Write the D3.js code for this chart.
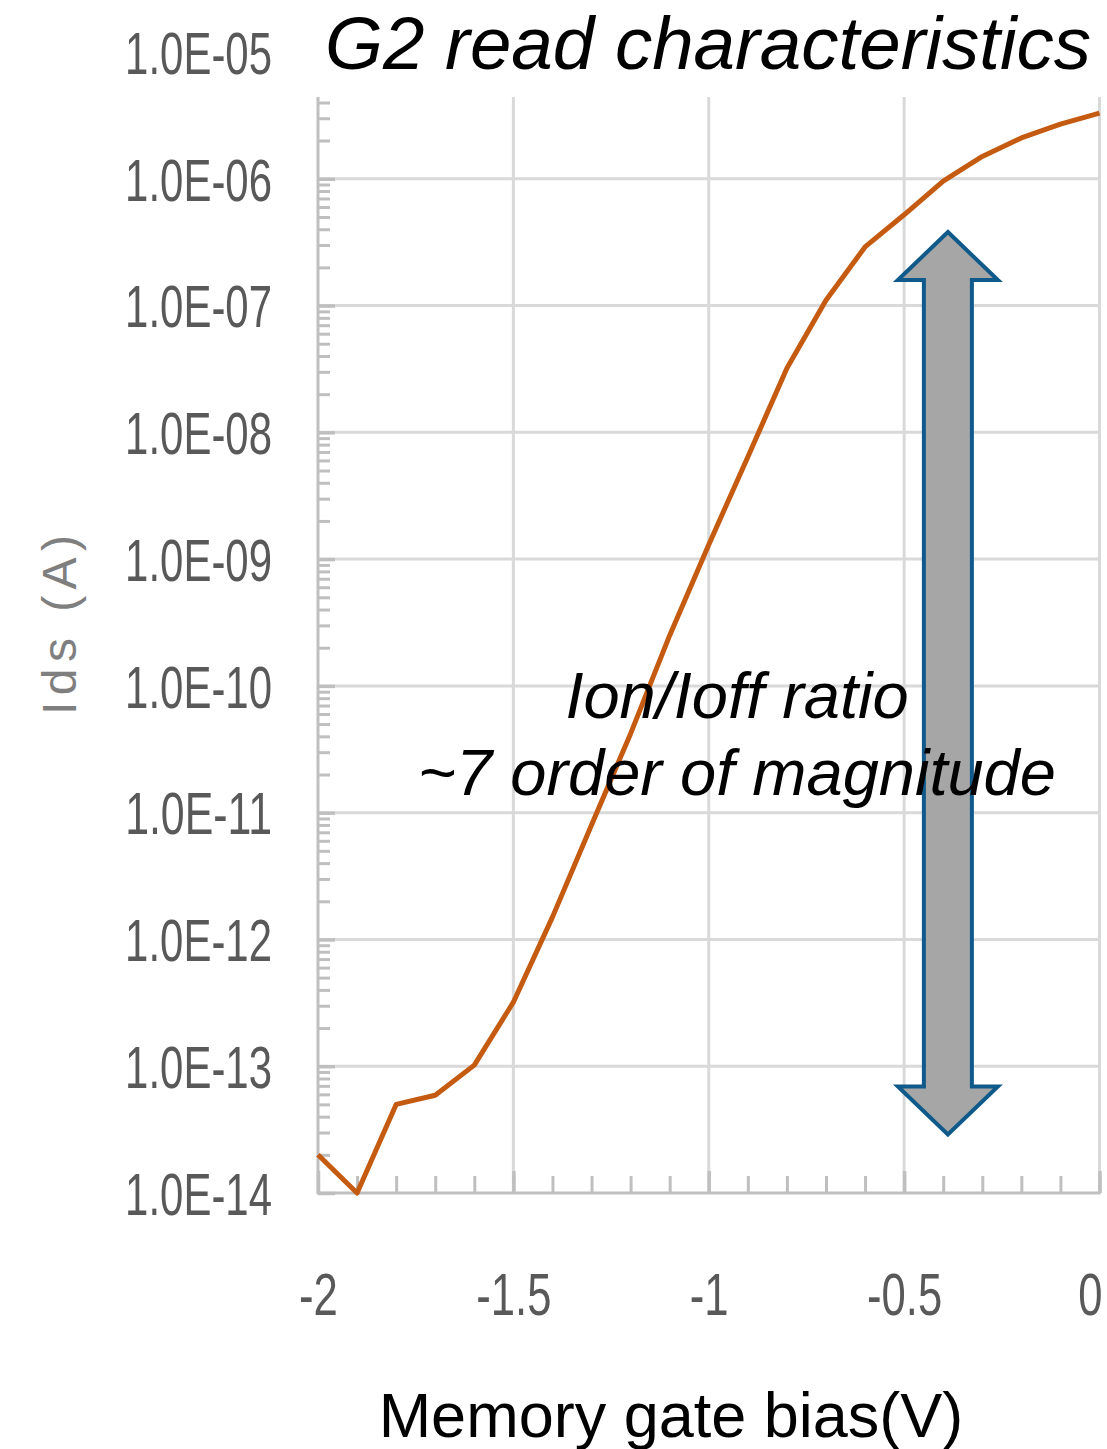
<!DOCTYPE html>
<html>
<head>
<meta charset="utf-8">
<script src="https://cdn.jsdelivr.net/npm/d3@7"></script>
<style>
  html, body { margin: 0; padding: 0; background: #fff; }
  svg { display: block; }
</style>
</head>
<body>
<svg id="chart" width="1107" height="1449"></svg>
<script>
// Memory gate bias sweep (V) and measured drain current Ids (A)
const gateBias = [-2.0, -1.9, -1.8, -1.7, -1.6, -1.5, -1.4, -1.3, -1.2, -1.1, -1.0,
                  -0.9, -0.8, -0.7, -0.6, -0.5, -0.4, -0.3, -0.2, -0.1, 0.0];
const idsCurrent = [2.0e-14, 1.0e-14, 5.0e-14, 5.9e-14, 1.02e-13, 3.2e-13, 1.5e-12, 8.0e-12,
                    4.2e-11, 2.5e-10, 1.3e-9, 6.4e-9, 3.2e-8, 1.1e-7, 2.9e-7, 5.2e-7,
                    9.6e-7, 1.5e-6, 2.1e-6, 2.7e-6, 3.3e-6];

// Axis ticks
const yTickValues = [1e-14, 1e-13, 1e-12, 1e-11, 1e-10, 1e-9, 1e-8, 1e-7, 1e-6, 1e-5];
const yTickLabels = ["1.0E-14", "1.0E-13", "1.0E-12", "1.0E-11", "1.0E-10",
                     "1.0E-09", "1.0E-08", "1.0E-07", "1.0E-06", "1.0E-05"];
const xTickValues = [-2, -1.5, -1, -0.5, 0];
const xTickLabels = ["-2", "-1.5", "-1", "-0.5", "0"];
const xMinorStep = 0.1;

// On/off ratio annotation: arrow spans Ioff .. Ion at this bias
const ratioArrowBias = -0.388;
const ratioArrowSpan = [2.9e-14, 3.8e-7];
const ratioText = ["Ion/Ioff ratio", "~7 order of magnitude"];

const titleText = "G2 read characteristics";
const xTitle = "Memory gate bias(V)";
const yTitle = "Ids (A)";

// ---- layout ----
const W = 1107;
const plot = { left: 318, right: 1099.5, top: 97, bottom: 1193, decadeTop: 52 };
const svg = d3.select("#chart");

const x = d3.scaleLinear().domain([-2, 0]).range([plot.left, plot.right]);
const y = d3.scaleLog().domain([1e-14, 1e-5]).range([plot.bottom, plot.decadeTop]);

// Narrow label face: advance widths (em) of a condensed humanist sans
const narrowWidth = { "0": .507, "1": .507, "2": .507, "3": .507, "4": .507, "5": .507,
  "6": .507, "7": .507, "8": .507, "9": .507, ".": .252, "E": .488, "-": .306 };
const narrowEm = 47.8;
const narrowLen = s => Array.from(s).reduce((a, c) => a + (narrowWidth[c] || .5), 0) * narrowEm;

const gridColor = "#d9d9d9";
const axisColor = "#bfbfbf";
const labelColor = "#595959";

svg.append("defs").append("clipPath").attr("id", "plotClip")
  .append("rect")
  .attr("x", plot.left - 5).attr("y", plot.top)
  .attr("width", plot.right - plot.left + 10).attr("height", plot.bottom - plot.top + 5);

const plotG = svg.append("g").attr("clip-path", "url(#plotClip)");

// Horizontal gridlines (decades)
plotG.append("g")
  .selectAll("line")
  .data(yTickValues.slice(1))
  .join("line")
  .attr("x1", plot.left).attr("x2", plot.right)
  .attr("y1", d => y(d)).attr("y2", d => y(d))
  .attr("stroke", gridColor).attr("stroke-width", 3);

// Vertical gridlines
plotG.append("g")
  .selectAll("line")
  .data(xTickValues.slice(1))
  .join("line")
  .attr("x1", d => x(d)).attr("x2", d => x(d))
  .attr("y1", plot.top).attr("y2", plot.bottom)
  .attr("stroke", gridColor).attr("stroke-width", 3);

// Minor log ticks (2..9 per decade) on the left axis, pointing inward
const minorY = [];
for (let e = -14; e < -5; e++) for (let m = 2; m <= 9; m++) minorY.push(m * Math.pow(10, e));

function styleTicks(g, w) {
  g.select(".domain").remove();
  g.selectAll(".tick line").attr("stroke", axisColor).attr("stroke-width", w);
}

plotG.append("g")
  .attr("transform", `translate(${plot.left},0)`)
  .call(d3.axisRight(y).tickValues(minorY).tickSize(12).tickFormat(""))
  .call(g => styleTicks(g, 3));

plotG.append("g")
  .attr("transform", `translate(${plot.left},0)`)
  .call(d3.axisRight(y).tickValues(yTickValues.slice(0, -1)).tickSize(17).tickFormat(""))
  .call(g => styleTicks(g, 3.5));

// Minor / major ticks on the bottom axis, pointing upward
const minorX = d3.range(-2, 0.0001, xMinorStep).map(v => +v.toFixed(1));
svg.append("g")
  .attr("transform", `translate(0,${plot.bottom})`)
  .call(d3.axisTop(x).tickValues(minorX).tickSize(17).tickFormat(""))
  .call(g => styleTicks(g, 3));
svg.append("g")
  .attr("transform", `translate(0,${plot.bottom})`)
  .call(d3.axisTop(x).tickValues(xTickValues).tickSize(22).tickFormat(""))
  .call(g => styleTicks(g, 3.5));

// Axis lines
svg.append("line")
  .attr("x1", plot.left).attr("x2", plot.left)
  .attr("y1", plot.top).attr("y2", plot.bottom + 1.5)
  .attr("stroke", axisColor).attr("stroke-width", 3);
svg.append("line")
  .attr("x1", plot.left).attr("x2", plot.right + 1)
  .attr("y1", plot.bottom).attr("y2", plot.bottom)
  .attr("stroke", axisColor).attr("stroke-width", 3);

// Squeeze tick label text horizontally to the narrow face width,
// keeping its anchor point (x offset within the tick) in place.
function narrowLabels(sel, anchorX) {
  sel.each(function () {
    const t = d3.select(this);
    const natural = this.getComputedTextLength();
    const sx = narrowLen(t.text()) / natural;
    t.attr("x", anchorX / sx).attr("transform", `scale(${sx},1)`);
    this.__sx = sx;
  });
}

// Tick labels
const yPad = 46;
const yLab = svg.append("g")
  .attr("transform", `translate(${plot.left},0)`)
  .call(d3.axisLeft(y).tickValues(yTickValues).tickSize(0).tickPadding(yPad)
    .tickFormat((d, i) => yTickLabels[i]));
yLab.select(".domain").remove();
yLab.selectAll("text")
  .attr("font-family", "'Liberation Sans', Arial, sans-serif")
  .attr("font-size", 59)
  .attr("fill", labelColor)
  .attr("dy", "0.36em")
  .call(narrowLabels, -yPad);

const xLab = svg.append("g")
  .attr("transform", `translate(0,${plot.bottom})`)
  .call(d3.axisBottom(x).tickValues(xTickValues).tickSize(0).tickPadding(80)
    .tickFormat((d, i) => xTickLabels[i]));
xLab.select(".domain").remove();
xLab.selectAll("text")
  .attr("font-family", "'Liberation Sans', Arial, sans-serif")
  .attr("font-size", 59)
  .attr("fill", labelColor)
  .call(narrowLabels, 0);
// keep the last label clear of the canvas edge
const edgeRoom = 5;
xLab.selectAll(".tick").each(function (d) {
  const t = d3.select(this).select("text");
  const half = narrowLen(t.text()) / 2;
  const tx = x(d);
  if (tx + half > W - edgeRoom) {
    const shift = (W - edgeRoom) - tx - half;
    t.attr("x", shift / t.node().__sx);
  }
});

// Ids curve
const pts = gateBias.map((v, i) => [v, idsCurrent[i]]);
svg.append("path")
  .datum(pts)
  .attr("fill", "none")
  .attr("stroke", "#c55a11")
  .attr("stroke-width", 5)
  .attr("stroke-linejoin", "round")
  .attr("d", d3.line().x(d => x(d[0])).y(d => y(d[1])));

// Double-headed on/off arrow
const ax = x(ratioArrowBias);
const yTop = y(ratioArrowSpan[1]);
const yBot = y(ratioArrowSpan[0]);
const headLen = 48, headHalf = 50, shaftHalf = 24;
const arrowPath = d3.path();
arrowPath.moveTo(ax, yTop);
arrowPath.lineTo(ax + headHalf, yTop + headLen);
arrowPath.lineTo(ax + shaftHalf, yTop + headLen);
arrowPath.lineTo(ax + shaftHalf, yBot - headLen);
arrowPath.lineTo(ax + headHalf, yBot - headLen);
arrowPath.lineTo(ax, yBot);
arrowPath.lineTo(ax - headHalf, yBot - headLen);
arrowPath.lineTo(ax - shaftHalf, yBot - headLen);
arrowPath.lineTo(ax - shaftHalf, yTop + headLen);
arrowPath.lineTo(ax - headHalf, yTop + headLen);
arrowPath.closePath();
svg.append("path")
  .attr("d", arrowPath.toString())
  .attr("fill", "#a6a6a6")
  .attr("stroke", "#0f5a8a")
  .attr("stroke-width", 4)
  .attr("stroke-linejoin", "miter");

// Annotation text
svg.append("g")
  .selectAll("text")
  .data(ratioText)
  .join("text")
  .attr("x", 737)
  .attr("y", (d, i) => 718 + i * 77)
  .attr("text-anchor", "middle")
  .attr("font-family", "'Liberation Sans', Arial, sans-serif")
  .attr("font-style", "italic")
  .attr("font-size", 65)
  .attr("fill", "#000")
  .text(d => d);

// Title
svg.append("text")
  .attr("x", 708).attr("y", 69)
  .attr("text-anchor", "middle")
  .attr("font-family", "'Liberation Sans', Arial, sans-serif")
  .attr("font-style", "italic")
  .attr("font-size", 74.5)
  .attr("fill", "#000")
  .text(titleText);

// Axis titles
svg.append("text")
  .attr("x", 671).attr("y", 1437)
  .attr("text-anchor", "middle")
  .attr("font-family", "'Liberation Sans', Arial, sans-serif")
  .attr("font-size", 63)
  .attr("fill", "#000")
  .text(xTitle);

svg.append("text")
  .attr("transform", "translate(76,625) rotate(-90)")
  .attr("text-anchor", "middle")
  .attr("font-family", "'Liberation Sans', Arial, sans-serif")
  .attr("font-size", 48)
  .attr("fill", "#7f7f7f")
  .attr("textLength", 180)
  .attr("lengthAdjust", "spacing")
  .text(yTitle);
</script>
</body>
</html>
